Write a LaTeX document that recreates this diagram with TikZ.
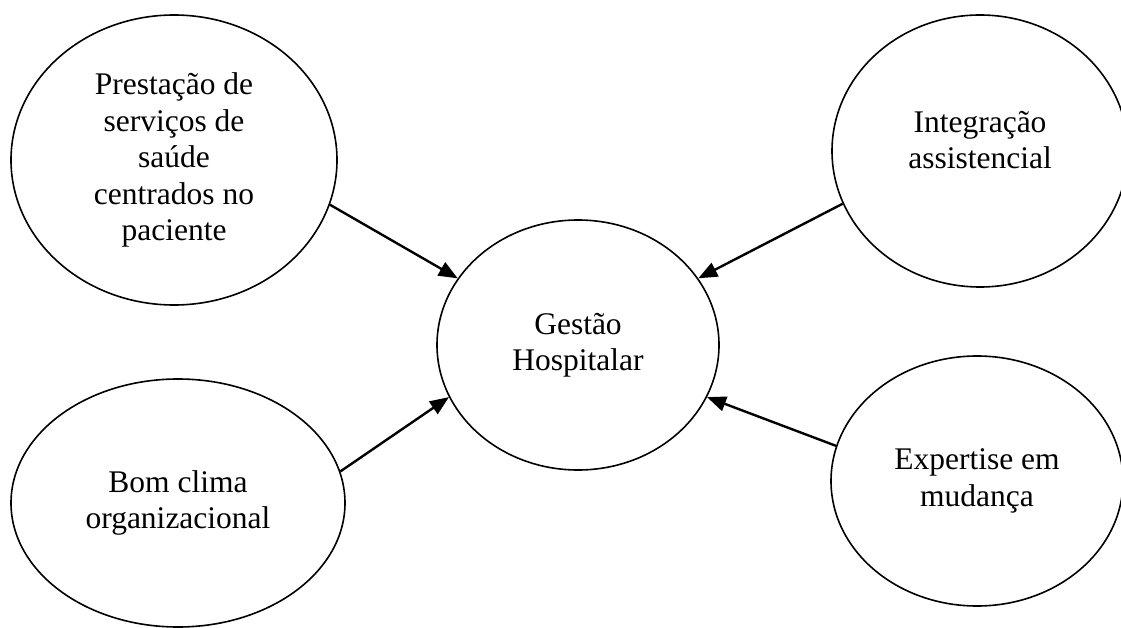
\documentclass[tikz,border=0pt]{standalone}
\usepackage{fontspec}
\setmainfont{Liberation Serif}
\usetikzlibrary{arrows.meta,shapes.geometric}
\begin{document}
\begin{tikzpicture}[x=1pt,y=-1pt,
  bubble/.style={draw=black,line width=1.6pt,ellipse,inner sep=0pt,align=center,
    font=\fontsize{31.5}{36.5}\selectfont},
  link/.style={line width=2.4pt,-{Triangle[length=19pt,width=15pt]}}]
\clip (0,0) rectangle (1121,628);
\node[bubble,minimum width=326pt,minimum height=290pt] (tl) at (174,160)
  {Prestação de\\serviços de\\saúde\\centrados no\\paciente};
\node[bubble,minimum width=296pt,minimum height=272pt] (tr) at (980,151)
  {Integração\\assistencial\rule[-22pt]{0pt}{0pt}};
\node[bubble,minimum width=282pt,minimum height=250pt] (c) at (578,345)
  {Gestão\\Hospitalar};
\node[bubble,minimum width=334pt,minimum height=248pt] (bl) at (178,503)
  {Bom clima\\organizacional};
\node[bubble,minimum width=292pt,minimum height=250pt] (br) at (977,481)
  {Expertise em\\mudança};
\draw[link] (tl.-16.8) -- (c.151);
\draw[link] (tr.201.9) -- (c.29);
\draw[link] (bl.11.7) -- (c.202.9);
\draw[link] (br.166.7) -- (c.-22.8);
\end{tikzpicture}
\end{document}
